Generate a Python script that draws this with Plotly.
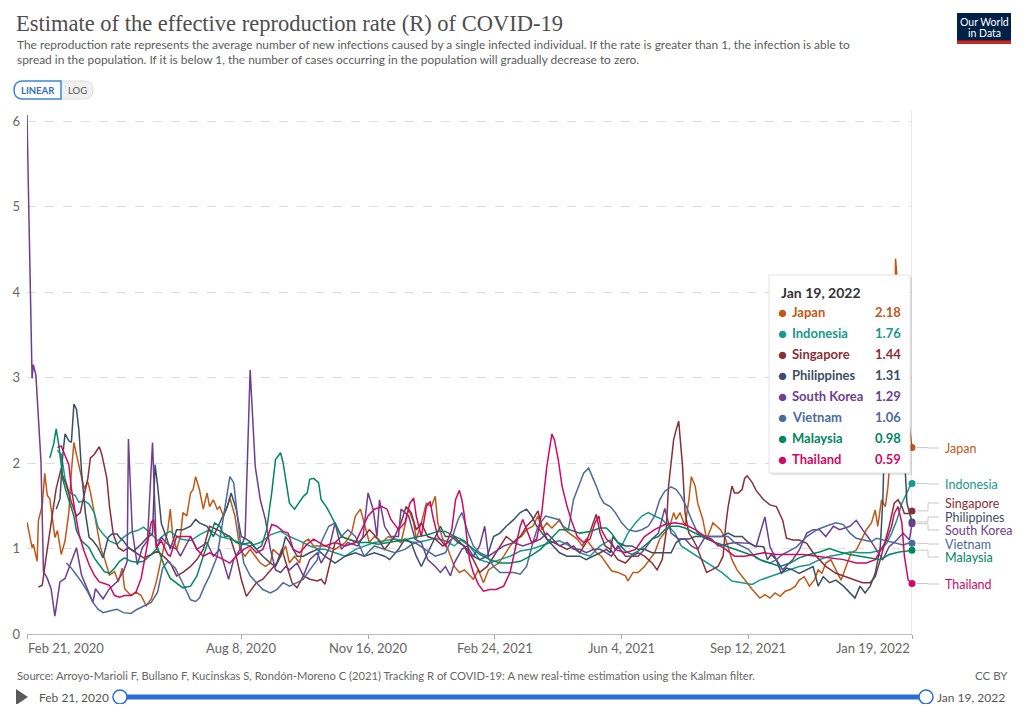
import plotly.graph_objects as go
import pandas as pd

# ---------------- data (day offset from Feb 21, 2020, R value) ----------------
START = "2020-02-21"
LAST_DAY = 698

countries = ["Japan", "Indonesia", "Singapore", "Philippines", "South Korea", "Vietnam", "Malaysia", "Thailand"]
latest_values = [2.18, 1.76, 1.44, 1.31, 1.29, 1.06, 0.98, 0.59]
latest_label = "Jan 19, 2022"
tick_dates = ["2020-02-21", "2020-08-08", "2020-11-16", "2021-02-24", "2021-06-04", "2021-09-12", "2022-01-19"]
tick_labels = ["Feb 21, 2020", "Aug 8, 2020", "Nov 16, 2020", "Feb 24, 2021", "Jun 4, 2021", "Sep 12, 2021", "Jan 19, 2022"]

japan = [(0,1.31),(4,1.01),(5,1.05),(8,0.85),(9,1.33),(12,1.50),(14,1.88),(16,1.62),(18,1.58),(20,1.38),(22,1.13),(24,1.21),(27,0.93),(30,1.09),(33,1.42),(35,1.90),(37,2.24),(39,2.10),(42,1.90),(45,1.70),(48,1.78),(50,1.66),(53,1.42),(56,1.17),(58,1.01),(61,0.89),(65,0.69),(69,0.73),(72,0.61),(75,0.77),(77,0.53),(82,0.45),(86,0.49),(90,0.45),(94,0.33),(98,0.41),(102,0.61),(106,0.89),(109,1.09),(111,1.21),(113,1.46),(115,1.14),(118,0.99),(121,1.14),(123,1.42),(126,1.38),(129,1.65),(131,1.69),(133,1.84),(136,1.69),(139,1.46),(142,1.65),(144,1.49),(147,1.57),(150,1.46),(152,1.49),(155,1.38),(158,1.49),(160,1.59),(164,1.38),(168,0.99),(172,0.91),(176,0.99),(180,0.91),(184,0.83),(188,0.79),(192,0.83),(194,0.99),(200,0.91),(204,1.03),(207,0.83),(211,0.91),(215,0.83),(218,1.07),(222,1.11),(226,1.03),(235,1.03),(243,0.99),(251,1.07),(256,1.18),(259,1.38),(263,1.46),(266,1.30),(270,1.07),(274,1.14),(280,1.07),(285,1.14),(290,1.11),(295,1.07),(301,1.46),(305,1.30),(307,1.11),(311,1.30),(315,1.53),(319,1.49),(322,1.61),(324,1.30),(328,1.11),(332,0.99),(337,0.79),(341,0.72),(345,0.75),(347,0.72),(352,0.64),(356,0.75),(360,0.60),(364,0.75),(368,0.79),(372,0.83),(376,0.91),(381,1.03),(386,1.11),(390,1.14),(394,1.22),(399,1.26),(403,1.38),(406,1.22),(410,1.30),(414,1.24),(418,1.30),(420,1.34),(424,1.22),(428,1.18),(434,1.11),(438,1.03),(441,1.11),(445,1.03),(449,0.95),(453,0.91),(457,0.83),(461,0.74),(466,0.72),(472,0.68),(474,0.62),(478,0.72),(482,0.72),(487,0.79),(491,0.87),(495,0.95),(499,1.11),(503,1.18),(507,1.26),(510,1.42),(512,1.34),(515,1.42),(519,1.26),(522,1.57),(524,1.84),(527,1.73),(529,1.53),(533,1.34),(536,1.11),(539,1.22),(541,1.30),(544,1.26),(547,1.22),(551,1.11),(556,0.87),(560,0.75),(564,0.68),(568,0.60),(572,0.52),(578,0.42),(582,0.46),(586,0.42),(590,0.48),(594,0.44),(598,0.50),(602,0.52),(606,0.56),(609,0.63),(613,0.67),(617,0.56),(621,0.63),(624,0.75),(627,0.71),(630,0.83),(634,0.87),(638,0.75),(642,0.63),(646,0.79),(650,0.95),(654,0.98),(658,1.10),(662,1.22),(666,1.30),(669,1.45),(671,1.26),(674,1.57),(677,1.49),(679,1.72),(682,2.27),(684,3.30),(685,4.39),(686,4.21),(688,3.63),(691,2.97),(694,2.50),(696,2.42),(698,2.18)]

indonesia = [(24,2.15),(27,2.10),(30,1.82),(33,1.66),(38,1.62),(41,1.54),(45,1.56),(49,1.52),(53,1.42),(56,1.25),(60,1.17),(65,1.09),(71,1.05),(76,1.13),(82,1.19),(87,1.21),(92,1.25),(98,1.17),(103,1.09),(109,1.17),(113,1.20),(121,1.11),(129,1.09),(136,1.16),(144,1.22),(152,1.14),(160,1.11),(168,1.07),(176,1.03),(184,1.07),(192,1.16),(200,1.20),(207,1.14),(215,1.09),(223,1.03),(231,0.99),(235,0.99),(243,0.95),(251,0.91),(259,0.99),(266,1.03),(274,1.07),(282,1.09),(290,1.11),(298,1.09),(306,1.07),(314,1.09),(322,1.12),(330,1.09),(337,1.03),(342,1.10),(349,1.03),(357,0.87),(365,0.83),(373,0.87),(381,0.91),(389,0.97),(397,0.99),(405,1.03),(413,1.07),(420,1.09),(428,1.03),(436,0.95),(444,0.91),(452,1.03),(460,1.10),(464,0.99),(469,1.03),(474,1.18),(480,1.30),(485,1.38),(490,1.42),(495,1.38),(501,1.34),(506,1.26),(511,1.18),(516,1.03),(524,0.95),(532,0.87),(540,0.79),(548,0.72),(556,0.62),(564,0.60),(572,0.58),(578,0.63),(586,0.67),(594,0.71),(602,0.75),(609,0.79),(617,0.81),(625,0.87),(633,0.91),(641,0.93),(649,0.96),(657,0.95),(665,0.95),(673,0.98),(678,1.06),(682,1.18),(686,1.33),(690,1.53),(694,1.65),(696,1.72),(698,1.76)]

singapore = [(9,0.55),(12,0.57),(15,0.89),(19,1.29),(23,1.70),(27,1.94),(28,1.86),(31,1.74),(35,1.54),(39,1.38),(42,1.42),(45,1.62),(48,1.82),(50,2.06),(53,2.10),(57,2.19),(59,2.10),(63,1.82),(65,1.50),(68,1.17),(72,1.01),(76,0.97),(80,1.01),(84,0.97),(88,0.93),(92,0.89),(98,0.93),(103,0.97),(109,0.89),(113,0.83),(118,0.68),(123,0.72),(129,0.79),(134,0.87),(139,0.99),(144,1.26),(150,1.22),(155,1.18),(160,1.14),(165,0.91),(169,0.64),(173,0.44),(177,0.52),(181,0.60),(186,0.64),(192,0.75),(197,0.83),(201,0.99),(205,0.79),(209,0.60),(213,0.54),(218,0.68),(223,0.64),(229,0.62),(232,0.64),(235,0.58),(239,0.83),(243,1.07),(248,1.14),(253,1.11),(261,1.07),(266,1.14),(270,1.22),(277,1.11),(282,0.99),(290,1.14),(295,1.30),(299,1.49),(303,1.42),(307,1.22),(311,1.30),(316,1.14),(322,1.11),(328,1.03),(332,1.07),(337,1.14),(342,1.07),(347,0.99),(352,0.87),(357,0.72),(363,0.79),(368,0.91),(373,1.03),(378,1.14),(384,1.07),(389,1.14),(394,1.26),(399,1.34),(403,1.44),(406,1.26),(410,1.11),(415,1.07),(420,1.03),(426,0.99),(431,1.03),(436,0.95),(441,1.07),(447,1.30),(449,1.40),(452,1.18),(456,1.03),(460,0.99),(466,0.87),(472,0.83),(477,0.91),(482,0.95),(487,0.91),(493,0.83),(497,0.75),(501,0.87),(504,1.18),(506,1.73),(510,2.27),(512,2.39),(514,2.49),(517,1.97),(519,1.42),(522,1.18),(524,1.14),(528,1.03),(532,0.87),(536,0.72),(540,0.75),(545,0.79),(549,0.91),(551,1.26),(553,1.49),(556,1.73),(558,1.65),(561,1.65),(564,1.69),(566,1.82),(568,1.85),(572,1.77),(575,1.68),(581,1.57),(586,1.51),(591,1.49),(596,1.33),(599,1.12),(604,1.10),(609,1.10),(615,1.06),(620,0.95),(625,0.87),(630,0.79),(638,0.71),(646,0.67),(654,0.63),(659,0.60),(665,0.60),(669,0.67),(673,0.87),(677,1.10),(680,1.26),(684,1.53),(687,1.57),(690,1.49),(692,1.41),(696,1.41),(698,1.44)]

philippines = [(23,1.46),(26,1.58),(28,2.06),(30,2.34),(33,2.26),(35,2.24),(37,2.69),(39,2.63),(41,2.38),(43,1.90),(46,1.42),(49,1.13),(52,1.09),(56,1.01),(60,0.89),(64,1.13),(67,1.17),(71,1.17),(73,1.13),(76,1.09),(80,1.01),(84,0.97),(90,1.05),(95,1.13),(99,1.17),(101,1.98),(103,1.74),(106,1.29),(110,1.13),(113,0.99),(118,1.22),(123,1.22),(129,1.26),(133,1.34),(136,1.30),(142,1.26),(147,1.14),(152,1.30),(158,1.49),(161,1.65),(165,1.46),(169,1.14),(173,1.11),(177,1.07),(181,0.99),(186,0.91),(192,0.83),(196,0.79),(200,0.91),(204,1.14),(207,1.07),(213,0.91),(218,0.91),(223,0.95),(229,0.99),(235,0.91),(243,0.83),(251,0.91),(259,0.95),(266,0.91),(274,0.95),(282,0.91),(286,0.87),(293,0.99),(298,1.11),(303,1.07),(307,0.91),(311,0.79),(316,0.95),(322,1.14),(326,1.26),(330,1.14),(335,1.14),(340,1.07),(345,1.03),(347,0.95),(352,0.91),(357,0.87),(363,0.91),(368,1.14),(373,1.18),(378,1.26),(384,1.34),(389,1.42),(394,1.46),(398,1.38),(402,1.26),(406,1.18),(410,1.11),(415,1.03),(420,0.95),(426,0.91),(431,0.91),(436,0.91),(441,0.87),(447,0.91),(452,0.95),(457,0.99),(460,0.95),(462,1.14),(466,1.07),(472,1.03),(477,1.03),(482,0.99),(487,0.99),(493,0.95),(498,0.95),(503,0.95),(508,0.95),(512,1.07),(516,1.11),(522,1.11),(527,1.14),(532,1.14),(537,1.14),(543,1.14),(548,1.14),(553,1.18),(558,1.14),(564,1.14),(569,1.07),(574,1.03),(581,1.02),(584,0.87),(587,0.93),(591,0.87),(595,0.71),(599,0.77),(604,0.75),(609,0.71),(615,0.75),(620,0.79),(624,0.56),(628,0.67),(633,0.60),(638,0.63),(644,0.56),(649,0.48),(653,0.42),(657,0.56),(661,0.48),(665,0.56),(669,0.71),(673,1.02),(675,1.57),(677,2.66),(680,3.71),(682,4.02),(684,3.63),(686,3.82),(688,4.10),(690,3.24),(692,2.11),(694,1.53),(696,1.41),(698,1.31)]

south_korea = [(0,6.07),(4,2.99),(5,3.15),(7,3.03),(11,2.02),(13,0.73),(16,0.65),(19,0.53),(22,0.21),(26,0.61),(30,0.65),(33,0.77),(39,1.01),(43,0.69),(49,0.49),(52,0.37),(54,0.53),(60,0.41),(65,0.53),(71,0.61),(76,0.73),(79,0.85),(80,2.28),(83,1.21),(87,0.81),(91,1.01),(95,1.09),(99,2.24),(102,1.01),(106,1.13),(111,1.05),(113,1.03),(118,0.99),(121,0.91),(129,1.14),(134,0.99),(142,1.07),(147,0.91),(152,0.99),(159,0.64),(163,0.87),(168,0.99),(172,1.14),(176,3.09),(180,1.96),(184,1.57),(188,1.34),(192,0.99),(196,0.75),(200,0.72),(204,0.79),(207,0.75),(213,0.83),(218,0.68),(223,0.87),(229,0.95),(232,0.83),(238,0.99),(243,1.30),(248,0.99),(253,1.07),(261,1.03),(265,1.14),(269,1.65),(273,1.46),(276,1.14),(278,1.57),(282,1.26),(287,1.14),(293,1.14),(295,1.46),(301,1.38),(306,1.11),(311,1.07),(316,0.87),(322,0.79),(326,0.72),(330,0.79),(334,0.68),(337,0.83),(343,0.99),(347,1.03),(352,0.91),(357,1.03),(361,1.26),(364,0.91),(368,0.95),(376,1.03),(384,1.07),(391,1.03),(399,1.07),(405,1.11),(410,1.18),(415,1.11),(420,1.03),(426,1.07),(431,0.99),(436,0.99),(441,0.95),(447,0.99),(452,0.99),(457,0.95),(461,0.91),(466,1.03),(472,0.91),(477,0.91),(482,0.91),(487,0.99),(493,1.11),(498,1.18),(503,1.47),(506,1.30),(508,1.18),(514,1.11),(519,1.11),(524,1.03),(529,0.99),(535,1.14),(540,1.11),(545,1.03),(558,1.07),(570,1.06),(575,1.02),(582,1.37),(586,1.02),(591,0.87),(596,0.75),(604,0.87),(609,0.98),(615,1.18),(620,1.22),(625,1.22),(630,1.14),(636,1.26),(641,1.22),(649,1.26),(654,1.33),(659,1.22),(665,1.10),(670,0.98),(675,0.87),(680,1.02),(686,1.10),(691,1.18),(696,1.10),(698,1.29)]

vietnam = [(31,0.83),(35,0.77),(39,0.69),(43,0.61),(48,0.49),(52,0.37),(56,0.29),(60,0.25),(65,0.27),(71,0.29),(76,0.25),(82,0.24),(87,0.29),(92,0.33),(98,0.37),(103,0.49),(107,0.77),(111,0.85),(117,0.77),(122,0.62),(126,0.50),(129,0.40),(133,0.38),(136,0.42),(140,0.56),(144,0.68),(150,0.91),(154,1.30),(158,1.69),(160,1.84),(163,1.77),(165,1.49),(168,1.11),(171,0.83),(176,0.68),(181,0.60),(186,0.52),(192,0.48),(197,0.52),(202,0.60),(207,0.56),(213,0.60),(218,0.64),(223,0.75),(229,0.87),(232,1.07),(238,1.26),(243,1.30),(248,1.14),(253,1.22),(259,1.14),(266,0.91),(274,1.03),(282,0.99),(290,0.95),(298,0.99),(306,1.07),(314,0.99),(322,0.91),(330,0.95),(335,1.11),(340,1.34),(343,1.42),(348,1.18),(352,1.03),(357,0.95),(363,0.91),(368,0.79),(373,0.72),(378,0.72),(384,0.72),(389,0.70),(394,0.79),(399,1.07),(403,1.26),(409,1.38),(414,1.36),(419,1.34),(423,1.26),(427,1.22),(431,1.57),(435,1.73),(439,1.88),(443,1.94),(447,1.81),(449,1.73),(452,1.61),(455,1.53),(460,1.49),(464,1.42),(469,1.30),(474,1.22),(480,1.20),(485,1.22),(490,1.26),(495,1.38),(499,1.57),(503,1.67),(508,1.72),(512,1.69),(516,1.61),(520,1.49),(524,1.34),(529,1.18),(535,1.14),(540,1.14),(548,1.14),(553,1.14),(558,1.07),(564,1.03),(569,0.99),(575,0.89),(581,0.85),(586,0.83),(591,0.87),(596,0.93),(602,0.98),(607,1.02),(615,1.14),(623,1.22),(630,1.26),(638,1.30),(644,1.28),(649,1.18),(654,1.12),(661,1.10),(666,1.08),(670,1.12),(675,1.10),(680,1.08),(686,1.06),(691,1.04),(695,1.06),(698,1.06)]

malaysia = [(18,2.06),(21,2.22),(23,2.40),(25,2.22),(27,1.98),(28,1.82),(31,1.66),(34,1.52),(37,1.38),(39,1.21),(43,1.09),(49,1.01),(53,0.89),(57,0.81),(61,0.73),(65,0.71),(69,0.77),(73,0.85),(77,0.89),(82,0.85),(87,0.84),(92,0.85),(98,0.93),(103,1.01),(109,0.77),(113,0.65),(118,0.60),(123,0.54),(129,0.56),(134,0.68),(139,0.91),(144,1.14),(148,1.30),(152,1.26),(156,1.14),(160,1.14),(165,1.07),(171,1.05),(176,1.07),(181,0.99),(185,1.03),(189,1.22),(193,1.65),(196,2.04),(200,2.12),(202,2.00),(205,1.73),(207,1.53),(211,1.46),(214,1.53),(218,1.61),(221,1.65),(223,1.81),(226,1.82),(230,1.77),(232,1.57),(236,1.49),(240,1.38),(244,1.26),(248,1.14),(253,1.11),(261,1.07),(269,1.07),(277,1.05),(285,1.07),(293,1.09),(301,1.11),(309,1.14),(316,1.16),(324,1.20),(330,1.20),(335,1.16),(340,1.12),(345,1.09),(349,1.03),(357,0.93),(365,0.87),(373,0.83),(381,0.83),(389,0.85),(397,0.91),(405,0.99),(413,1.11),(420,1.22),(428,1.22),(436,1.18),(444,1.20),(452,1.24),(457,1.24),(461,1.18),(466,1.07),(472,0.97),(477,0.93),(482,0.97),(487,1.03),(493,1.11),(498,1.14),(503,1.22),(508,1.26),(514,1.26),(519,1.24),(524,1.20),(529,1.16),(535,1.12),(543,1.07),(551,1.03),(558,0.99),(566,0.95),(574,0.91),(578,0.87),(586,0.83),(594,0.79),(602,0.83),(609,0.89),(617,0.93),(625,0.96),(633,1.00),(641,0.96),(649,0.93),(657,0.91),(665,0.89),(673,0.87),(680,0.93),(688,0.96),(694,0.97),(698,0.98)]

thailand = [(24,2.18),(27,2.20),(33,1.98),(35,1.70),(38,1.42),(41,1.17),(45,0.97),(49,0.81),(53,0.69),(57,0.61),(61,0.59),(65,0.57),(69,0.45),(73,0.43),(77,0.45),(82,0.45),(86,0.49),(90,0.65),(94,0.97),(98,1.31),(100,1.33),(102,1.01),(106,1.09),(111,0.93),(113,0.91),(118,1.14),(123,1.14),(129,1.14),(134,0.99),(139,0.91),(144,0.95),(150,0.91),(155,0.87),(160,0.83),(165,0.91),(171,0.99),(176,1.03),(181,0.95),(186,0.99),(190,1.14),(193,1.28),(197,1.26),(202,1.20),(206,1.18),(210,0.99),(215,0.95),(221,1.05),(226,1.11),(231,1.07),(235,1.03),(243,1.07),(251,1.03),(259,1.07),(264,1.22),(269,1.38),(274,1.46),(280,1.49),(284,1.46),(287,1.34),(293,1.22),(298,1.30),(302,1.53),(305,1.59),(307,1.38),(311,1.14),(315,1.49),(318,1.55),(320,1.38),(324,1.14),(330,1.03),(335,1.22),(338,1.57),(341,1.68),(343,1.57),(345,1.38),(347,1.11),(349,0.87),(352,0.72),(356,0.58),(360,0.50),(365,0.52),(370,0.52),(376,0.56),(381,0.72),(385,0.99),(389,1.26),(391,1.34),(394,1.22),(398,1.07),(402,1.11),(406,1.42),(410,1.96),(413,2.27),(414,2.34),(416,2.27),(419,2.04),(422,1.73),(426,1.49),(430,1.30),(434,1.14),(439,1.07),(444,1.11),(448,1.30),(451,1.38),(453,1.22),(457,1.11),(460,1.07),(464,0.99),(472,0.95),(480,0.99),(487,1.14),(495,1.22),(503,1.28),(511,1.30),(519,1.28),(527,1.22),(535,1.14),(543,1.07),(551,0.99),(558,0.91),(566,0.91),(574,0.93),(581,0.95),(591,0.93),(602,0.93),(612,0.93),(623,0.91),(633,0.89),(644,0.87),(654,0.83),(662,0.83),(669,0.87),(673,0.98),(678,1.10),(682,1.26),(684,1.41),(687,1.49),(690,1.30),(692,0.91),(695,0.63),(698,0.59)]

series = {"Japan": japan, "Indonesia": indonesia, "Singapore": singapore, "Philippines": philippines,
          "South Korea": south_korea, "Vietnam": vietnam, "Malaysia": malaysia, "Thailand": thailand}

colors = {"Japan": "#C05917", "Indonesia": "#18988E", "Singapore": "#883039", "Philippines": "#3C4E66",
          "South Korea": "#6D3E91", "Vietnam": "#4C6A9C", "Malaysia": "#00875E", "Thailand": "#CF0A66"}

# ---------------- layout helpers (screen pixel -> paper) ----------------
OFF = 8                      # page body margin
W, H = 1023 - 2 * OFF, 712 - 2 * OFF
PL, PR, PT, PB = 27, 912, 110, 634          # plot box in screen pixels
YMAX = (PB - PT) / 85.5
FONT = "Lato, 'Open Sans', sans-serif"


def pxx(x):
    return (x - PL) / (PR - PL)


def pxy(y):
    return (PB - y) / (PB - PT)


def rounded_path(x0, y0, x1, y1, rl, rr):
    def fx(v): return "%.5f" % pxx(v)
    def fy(v): return "%.5f" % pxy(v)
    p = "M %s,%s L %s,%s " % (fx(x0 + rl), fy(y0), fx(x1 - rr), fy(y0))
    p += "Q %s,%s %s,%s " % (fx(x1), fy(y0), fx(x1), fy(y0 + rr))
    p += "L %s,%s " % (fx(x1), fy(y1 - rr))
    p += "Q %s,%s %s,%s " % (fx(x1), fy(y1), fx(x1 - rr), fy(y1))
    p += "L %s,%s " % (fx(x0 + rl), fy(y1))
    p += "Q %s,%s %s,%s " % (fx(x0), fy(y1), fx(x0), fy(y1 - rl))
    p += "L %s,%s " % (fx(x0), fy(y0 + rl))
    p += "Q %s,%s %s,%s Z" % (fx(x0), fy(y0), fx(x0 + rl), fy(y0))
    return p


def to_dates(days):
    return pd.Timestamp(START) + pd.to_timedelta(days, unit="D")


fig = go.Figure()

for name, pts in series.items():
    days = [d for d, _ in pts]
    vals = [v for _, v in pts]
    fig.add_trace(go.Scatter(x=to_dates(days), y=vals, mode="lines", name=name,
                             line=dict(color=colors[name], width=1.5), hoverinfo="skip",
                             showlegend=False))

for name, val in zip(countries, latest_values):
    fig.add_trace(go.Scatter(x=to_dates([LAST_DAY]), y=[val], mode="markers",
                             marker=dict(color=colors[name], size=7), cliponaxis=False,
                             hoverinfo="skip", showlegend=False))

annotations = []
shapes = []


def ann(x, y, text, size=13, color="#666", xanchor="left", yanchor="middle", family=FONT, xref="paper"):
    annotations.append(dict(x=x if xref != "paper" else pxx(x), y=pxy(y), xref=xref, yref="paper",
                            text=text, showarrow=False, xanchor=xanchor, yanchor=yanchor,
                            font=dict(size=size, color=color, family=family)))


# title & subtitle
ann(14, 9, "Estimate of the effective reproduction rate (R) of COVID-19", size=22.5, color="#4e4e4e",
    family="'Liberation Serif', 'DejaVu Serif', serif", yanchor="top")
ann(15, 45, "The reproduction rate represents the average number of new infections caused by a single infected individual. If the rate is greater than 1, the infection is able to", size=11.9, color="#5b5b5b")
ann(15, 59.5, "spread in the population. If it is below 1, the number of cases occurring in the population will gradually decrease to zero.", size=11.9, color="#5b5b5b")

# LINEAR / LOG toggle
shapes.append(dict(type="path", path=rounded_path(60, 81, 93, 99, 0, 9), xref="paper", yref="paper",
                   fillcolor="#f0f0f0", line=dict(color="#dddddd", width=1)))
shapes.append(dict(type="path", path=rounded_path(14, 81, 61, 99, 9, 0), xref="paper", yref="paper",
                   fillcolor="#ffffff", line=dict(color="#3d86d8", width=1.5)))
ann(37.5, 90.5, "<b>LINEAR</b>", size=9.5, color="#2f6fbf", xanchor="center")
ann(77, 90.5, "LOG", size=9.5, color="#555", xanchor="center")

# logo
shapes.append(dict(type="rect", x0=pxx(957), x1=pxx(1011), y0=pxy(44), y1=pxy(13), xref="paper", yref="paper",
                   fillcolor="#002147", line=dict(width=0)))
shapes.append(dict(type="rect", x0=pxx(957), x1=pxx(1011), y0=pxy(44), y1=pxy(40.5), xref="paper", yref="paper",
                   fillcolor="#ce261e", line=dict(width=0)))
ann(984, 21.5, "Our World", size=10.5, color="#ffffff", xanchor="center")
ann(984, 32.5, "in Data", size=10.5, color="#ffffff", xanchor="center")

# hover line at last date
shapes.append(dict(type="line", x0=to_dates([LAST_DAY])[0], x1=to_dates([LAST_DAY])[0], y0=0, y1=1,
                   xref="x", yref="paper", line=dict(color="#d0d0d0", width=1), layer="below"))

# x tick labels
for i, (d, lab) in enumerate(zip(tick_dates, tick_labels)):
    if i == 0:
        ann(26, 648, lab, size=13, color="#666", xanchor="left")
    elif i == len(tick_dates) - 1:
        ann(912, 648, lab, size=13, color="#666", xanchor="right")
    else:
        ann(d, 648, lab, size=13, color="#666", xanchor="center", xref="x")

# end-of-line labels with connectors
label_px = [448, 484, 503, 517, 530, 544, 557, 584]
for name, val, ly in zip(countries, latest_values, label_px):
    dy = PB - val * 85.5
    path = "M %.5f,%.5f L %.5f,%.5f L %.5f,%.5f L %.5f,%.5f" % (
        pxx(917), pxy(dy), pxx(928), pxy(dy), pxx(928), pxy(ly), pxx(939), pxy(ly))
    shapes.append(dict(type="path", path=path, xref="paper", yref="paper",
                       line=dict(color="#c8c8c8", width=1)))
    ann(943, ly, name, size=12.5, color=colors[name])

# tooltip
shapes.append(dict(type="rect", x0=pxx(771), x1=pxx(912), y0=pxy(475), y1=pxy(277), xref="paper", yref="paper",
                   fillcolor="rgba(0,0,0,0.10)", line=dict(width=0), layer="above"))
shapes.append(dict(type="rect", x0=pxx(769), x1=pxx(910), y0=pxy(473), y1=pxy(275), xref="paper", yref="paper",
                   fillcolor="#ffffff", line=dict(color="#e2e2e2", width=1), layer="above"))
ann(779, 292, "<b>" + latest_label + "</b>", size=14, color="#333")
row_px = [312, 333, 354, 375, 396, 417, 438, 459]
for name, val, ry in zip(countries, latest_values, row_px):
    ann(775.5, ry, "●", size=15, color=colors[name])
    ann(790, ry, "<b>" + name + "</b>", size=13, color=colors[name])
    ann(903, ry, "<b>%.2f</b>" % val, size=13, color=colors[name], xanchor="right")

# source & license
ann(15, 675, "Source: Arroyo-Marioli F, Bullano F, Kucinskas S, Rondón-Moreno C (2021) Tracking R of COVID-19: A new real-time estimation using the Kalman filter.",
    size=11.2, color="#666")
ann(1010, 675, "CC BY", size=11.5, color="#666", xanchor="right")

# timeline
play = "M %.5f,%.5f L %.5f,%.5f L %.5f,%.5f Z" % (pxx(16), pxy(689), pxx(16), pxy(705), pxx(28), pxy(697))
shapes.append(dict(type="path", path=play, xref="paper", yref="paper", fillcolor="#5a5a5a", line=dict(width=0)))
ann(37, 697, tick_labels[0], size=12, color="#555")
ann(935, 697, tick_labels[-1], size=12, color="#555")
shapes.append(dict(type="line", x0=pxx(120), x1=pxx(926), y0=pxy(697), y1=pxy(697), xref="paper", yref="paper",
                   line=dict(color="#2a6dd9", width=5)))
for hx in (120, 926):
    shapes.append(dict(type="circle", x0=pxx(hx - 7), x1=pxx(hx + 7), y0=pxy(704), y1=pxy(690),
                       xref="paper", yref="paper", fillcolor="#ffffff", line=dict(color="#2a6dd9", width=1.5)))

fig.update_layout(
    width=W, height=H,
    margin=dict(l=PL - OFF, r=(OFF + W) - PR, t=PT - OFF, b=(OFF + H) - PB, pad=0, autoexpand=False),
    paper_bgcolor="#ffffff", plot_bgcolor="#ffffff",
    font=dict(family=FONT, size=13, color="#666"),
    hovermode=False, showlegend=False,
    xaxis=dict(type="date", range=[to_dates([0])[0], to_dates([LAST_DAY])[0]], automargin=False,
               tickvals=tick_dates, showticklabels=False, ticks="outside", ticklen=4,
               tickcolor="#aaaaaa", showgrid=False, zeroline=False, showline=True,
               linecolor="#bbbbbb", linewidth=1, fixedrange=True),
    yaxis=dict(range=[0, YMAX], tickvals=[0, 1, 2, 3, 4, 5, 6], ticks="", showgrid=True, automargin=False,
               gridcolor="#dddddd", griddash="dash", gridwidth=1, zeroline=False, showline=False,
               tickfont=dict(size=13, color="#666"), ticklabelstandoff=6, fixedrange=True),
    annotations=annotations,
    shapes=shapes,
)

fig.write_html("out.html")
